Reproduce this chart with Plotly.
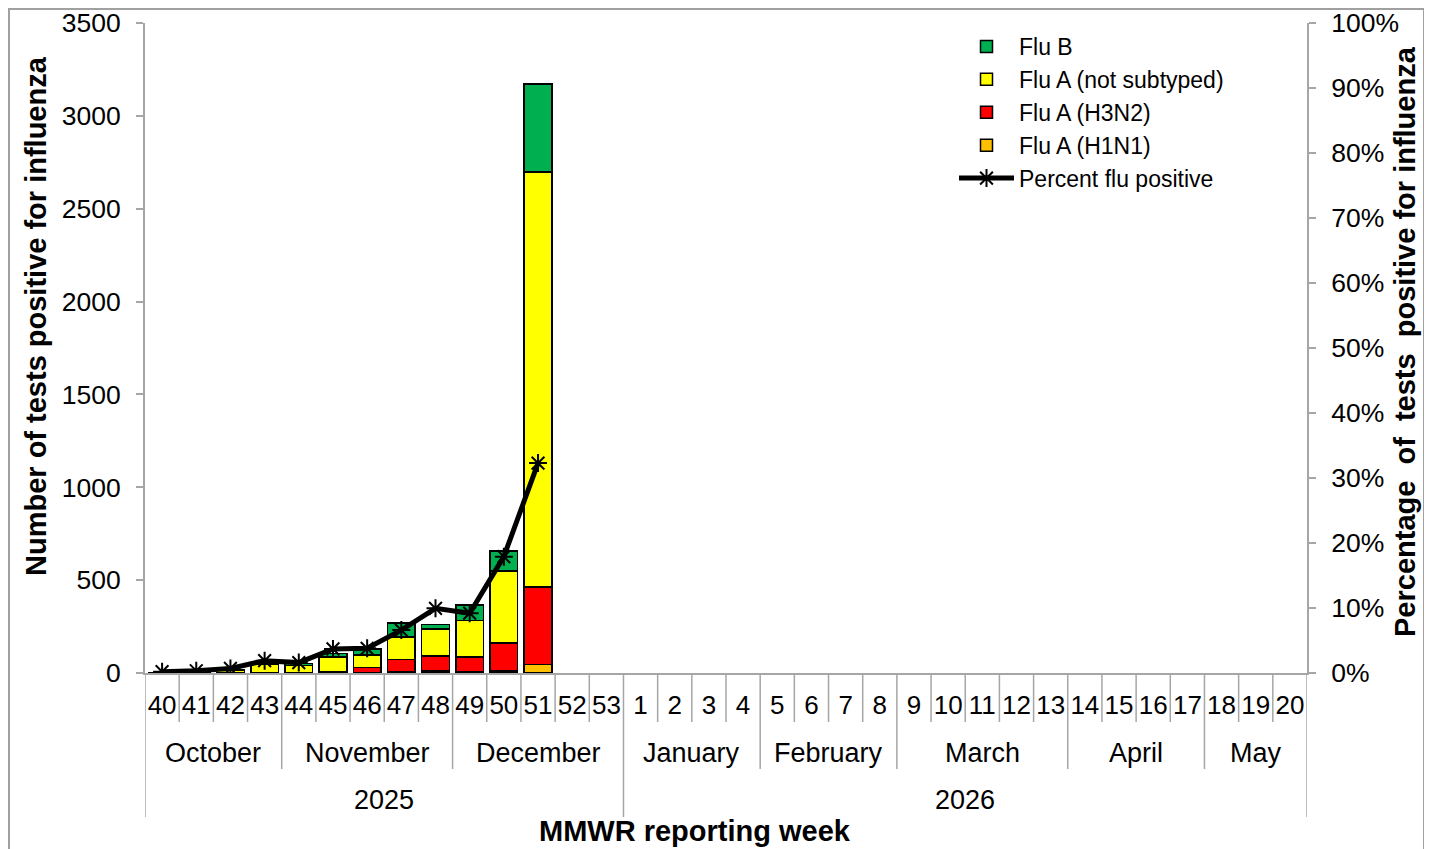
import plotly.graph_objects as go

# ---------------- data ----------------
weeks = [str(w) for w in range(40, 54)] + [str(w) for w in range(1, 21)]
data_weeks = ["40", "41", "42", "43", "44", "45", "46", "47", "48", "49", "50", "51"]

flu_a_h1n1 = [0, 0, 0, 0, 1, 2, 3, 6, 10, 8, 12, 47]
flu_a_h3n2 = [0, 0, 1, 2, 1, 5, 27, 66, 81, 77, 149, 415]
flu_a_unsub = [3, 5, 12, 47, 39, 80, 66, 123, 147, 197, 389, 2236]
flu_b = [1, 1, 2, 0, 9, 18, 32, 75, 23, 84, 108, 474]
pct_positive = [0.2, 0.35, 0.7, 1.9, 1.6, 3.7, 3.8, 6.6, 9.95, 9.2, 17.9, 32.3]

months = ["October", "November", "December", "January", "February", "March", "April", "May"]
month_weeks = [4, 5, 5, 4, 4, 5, 4, 3]
years = ["2025", "2026"]
year_weeks = [14, 20]

left_ticks = [0, 500, 1000, 1500, 2000, 2500, 3000, 3500]
right_ticks = [0, 10, 20, 30, 40, 50, 60, 70, 80, 90, 100]
right_tick_text = [f"{v}%" for v in right_ticks]

FONT = "Liberation Sans, Arial, sans-serif"
AXIS_GRAY = "#A6A6A6"

# plot-area geometry (pixels)
PW, PH = 1162, 650

fig = go.Figure()

bar_specs = [
    ("Flu A (H1N1)", flu_a_h1n1, "#FFC000", 4),
    ("Flu A (H3N2)", flu_a_h3n2, "#FF0000", 3),
    ("Flu A (not subtyped)", flu_a_unsub, "#FFFF00", 2),
    ("Flu B", flu_b, "#00B050", 1),
]
for name, vals, color, rank in bar_specs:
    fig.add_trace(go.Bar(
        x=data_weeks, y=vals, name=name, legendrank=rank,
        marker=dict(color=color, line=dict(color="black", width=1.5)),
    ))

fig.add_trace(go.Scatter(
    x=data_weeks, y=pct_positive, name="Percent flu positive", yaxis="y2",
    mode="lines+markers", legendrank=5,
    line=dict(color="black", width=5),
    marker=dict(symbol="asterisk-open", size=15, color="black",
                line=dict(color="black", width=2)),
))

# ---------------- multi-level category axis decorations ----------------
ROW1 = -49 / PH   # bottom of week row (paper)
ROW2 = -96 / PH   # bottom of month row
ROW3 = -144 / PH  # bottom of year row

shapes = []
month_bounds = set()
acc = 0
for n in month_weeks:
    acc += n
    month_bounds.add(acc)
year_bounds = set()
acc = 0
for n in year_weeks:
    acc += n
    year_bounds.add(acc)

for b in range(0, len(weeks) + 1):
    if b == 0 or b in year_bounds:
        bottom = ROW3
    elif b in month_bounds:
        bottom = ROW2
    else:
        bottom = ROW1
    shapes.append(dict(type="line", xref="x", yref="paper",
                       x0=b - 0.5, x1=b - 0.5, y0=0, y1=bottom,
                       line=dict(color=AXIS_GRAY, width=1.5)))

# outer frame
shapes.append(dict(type="rect", xref="paper", yref="paper",
                   x0=-136 / PW, x1=1279 / PW, y0=-220 / PH, y1=1 + 14 / PH,
                   line=dict(color="#A0A0A0", width=2), fillcolor="rgba(0,0,0,0)",
                   layer="below"))

annotations = []
start = 0
for m, n in zip(months, month_weeks):
    annotations.append(dict(text=m, x=start + (n - 1) / 2, xref="x",
                            y=-80 / PH, yref="paper", showarrow=False,
                            font=dict(family=FONT, size=27, color="black"),
                            xanchor="center", yanchor="middle"))
    start += n
start = 0
for yv, n in zip(years, year_weeks):
    annotations.append(dict(text=yv, x=start + (n - 1) / 2, xref="x",
                            y=-127 / PH, yref="paper", showarrow=False,
                            font=dict(family=FONT, size=27, color="black"),
                            xanchor="center", yanchor="middle"))
    start += n

annotations.append(dict(text="<b>MMWR reporting week</b>", x=550 / PW, xref="paper",
                        y=-158 / PH, yref="paper", showarrow=False,
                        font=dict(family=FONT, size=29, color="black"),
                        xanchor="center", yanchor="middle"))
annotations.append(dict(text="<b>Number of tests positive for influenza</b>",
                        x=-109 / PW, xref="paper", y=357 / PH, yref="paper",
                        textangle=-90, showarrow=False,
                        font=dict(family=FONT, size=29, color="black"),
                        xanchor="center", yanchor="middle"))
annotations.append(dict(text="<b>Percentage\u00a0 of\u00a0 tests\u00a0 positive for influenza</b>",
                        x=1260 / PW, xref="paper", y=331 / PH, yref="paper",
                        textangle=-90, showarrow=False,
                        font=dict(family=FONT, size=29, color="black"),
                        xanchor="center", yanchor="middle"))

fig.update_layout(
    width=1424, height=841,
    margin=dict(l=137, r=125, t=15, b=176, autoexpand=False),
    paper_bgcolor="white", plot_bgcolor="white",
    barmode="stack", bargap=0.19,
    font=dict(family=FONT, size=24, color="black"),
    showlegend=True,
    legend=dict(x=809 / PW, y=1.0 - 2 / PH, xanchor="left", yanchor="top",
                traceorder="normal", bgcolor="rgba(0,0,0,0)",
                font=dict(family=FONT, size=23, color="black"),
                itemwidth=55, tracegroupgap=0),
    xaxis=dict(type="category", categoryorder="array", categoryarray=weeks,
               tickmode="array", tickvals=weeks, ticktext=weeks,
               range=[-0.5, len(weeks) - 0.5],
               showline=True, linecolor=AXIS_GRAY, linewidth=2,
               ticks="", showgrid=False, zeroline=False,
               tickfont=dict(family=FONT, size=26, color="black"),
               ticklabelstandoff=8, tickangle=0),
    yaxis=dict(range=[0, 3500], tickvals=left_ticks, showgrid=False, zeroline=False,
               showline=True, linecolor=AXIS_GRAY, linewidth=2,
               ticks="outside", ticklen=7, tickcolor=AXIS_GRAY, tickwidth=2,
               tickfont=dict(family=FONT, size=26.5, color="black"),
               ticklabelstandoff=10),
    yaxis2=dict(range=[0, 100], tickmode="array", tickvals=right_ticks,
                ticktext=right_tick_text,
                overlaying="y", side="right", showgrid=False, zeroline=False,
                showline=True, linecolor=AXIS_GRAY, linewidth=2,
                ticks="outside", ticklen=7, tickcolor=AXIS_GRAY, tickwidth=2,
                tickfont=dict(family=FONT, size=26.5, color="black"),
                ticklabelstandoff=10),
    shapes=shapes, annotations=annotations,
)

fig.write_html("out.html")
